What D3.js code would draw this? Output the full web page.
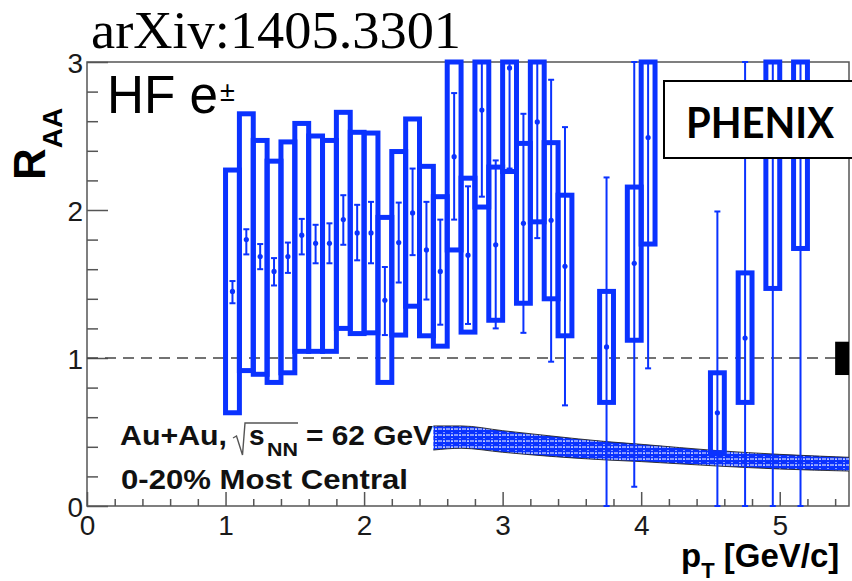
<!DOCTYPE html>
<html>
<head>
<meta charset="utf-8">
<script src="https://cdn.jsdelivr.net/npm/d3@7"></script>
<style>
  html, body { margin: 0; padding: 0; background: #fff; }
  svg { display: block; }
</style>
</head>
<body>
<svg id="chart" width="852" height="581"></svg>
<script>
// Heavy-flavour electron R_AA, Au+Au 62 GeV, 0-20% central
const pT       = [1.05, 1.15, 1.25, 1.35, 1.45, 1.55, 1.65, 1.75, 1.85, 1.95, 2.05, 2.15, 2.25, 2.35, 2.45, 2.55, 2.65, 2.75, 2.85, 2.95, 3.05, 3.15, 3.25, 3.35, 3.45, 3.75, 3.95, 4.05, 4.55, 4.75, 4.95, 5.15];
const rAA      = [1.45, 1.80, 1.685, 1.585, 1.685, 1.83, 1.775, 1.775, 1.935, 1.845, 1.845, 1.39, 1.78, 1.98, 1.73, 1.585, 2.36, 1.695, 2.675, 1.765, 2.96, 1.91, 2.595, 1.93, 1.62, 1.075, 1.64, 2.49, 0.63, 1.135, 2.40, 2.50];
const statLow  = [1.37, 1.70, 1.60, 1.49, 1.575, 1.70, 1.64, 1.64, 1.765, 1.66, 1.64, 1.155, 1.51, 1.695, 1.395, 1.225, 1.935, 1.23, 2.09, 1.20, 2.28, 1.17, 1.81, 0.975, 0.68, -0.07, 0.13, 0.93, -0.73, -0.80, -0.10, -0.10];
const statHigh = [1.52, 1.87, 1.77, 1.675, 1.78, 1.94, 1.90, 1.91, 2.10, 2.035, 2.055, 1.615, 2.05, 2.28, 2.055, 1.935, 2.79, 2.16, 3.26, 2.335, 3.64, 2.65, 3.38, 2.88, 2.56, 2.22, 3.15, 4.05, 1.99, 3.07, 4.90, 5.10];
const sysLow   = [0.63, 0.915, 0.89, 0.835, 0.90, 1.045, 1.045, 1.045, 1.20, 1.165, 1.17, 0.835, 1.155, 1.35, 1.15, 1.08, 1.73, 1.175, 2.02, 1.255, 2.26, 1.37, 1.92, 1.40, 1.15, 0.70, 1.12, 1.77, 0.36, 0.70, 1.47, 1.74];
const sysHigh  = [2.27, 2.65, 2.47, 2.33, 2.46, 2.585, 2.50, 2.47, 2.66, 2.525, 2.52, 1.95, 2.395, 2.615, 2.295, 2.09, 3.40, 2.215, 3.30, 2.29, 3.60, 2.45, 3.30, 2.455, 2.10, 1.45, 2.155, 3.30, 0.90, 1.575, 3.30, 3.20];

// Model band
const bandPt   = [2.5, 2.7, 3.0, 3.35, 3.75, 4.0, 4.55, 5.0, 5.5];
const bandHigh = [0.541, 0.541, 0.509, 0.473, 0.435, 0.417, 0.374, 0.349, 0.329];
const bandLow  = [0.378, 0.39, 0.363, 0.335, 0.311, 0.30, 0.27, 0.25, 0.236];

// Global normalisation uncertainty at unity
const normRange = [0.885, 1.11];
const normPt = [5.4, 5.5];

const xTicks = [0, 1, 2, 3, 4, 5];
const yTicks = [0, 1, 2, 3];

const BLUE = '#0a32ff';
const AXIS = '#555';
const svg = d3.select('#chart');

const x = d3.scaleLinear().domain([0, 5.5]).range([87, 849]);
const y = d3.scaleLinear().domain([0, 3]).range([506, 62]);
const clampY = v => Math.max(0, Math.min(3, v));

// hatched fill for the model band
const defs = svg.append('defs');
const pat = defs.append('pattern').attr('id', 'bandFill')
  .attr('patternUnits', 'userSpaceOnUse').attr('width', 8).attr('height', 6);
pat.append('rect').attr('width', 8).attr('height', 6).attr('fill', BLUE);
pat.append('line').attr('x1', 0).attr('x2', 8).attr('y1', 3).attr('y2', 3)
  .attr('stroke', '#fff').attr('stroke-width', 1).attr('stroke-dasharray', '2 1');
pat.append('line').attr('x1', 4).attr('x2', 4).attr('y1', 0).attr('y2', 6)
  .attr('stroke', '#fff').attr('stroke-width', 1).attr('stroke-dasharray', '1 2');

// frame
const [x0, x1] = x.range();
const [yb, yt] = y.range();
svg.append('rect').attr('x', x0).attr('y', yt).attr('width', x1 - x0).attr('height', yb - yt)
  .attr('fill', 'none').attr('stroke', AXIS).attr('stroke-width', 1.5);

// axes
const styleAxis = g => {
  g.select('.domain').remove();
  g.selectAll('.tick line').attr('stroke', AXIS).attr('stroke-width', 1.5);
  g.selectAll('.tick text').attr('fill', '#1a1a1a')
    .attr('font-family', '"Liberation Sans", Arial, sans-serif').attr('font-size', 28);
};
const yMinor = d3.range(0, 3.001, 0.2).filter(v => Math.abs(v - Math.round(v)) > 1e-6);
const xMinor = d3.range(0, 5.501, 0.2).filter(v => Math.abs(v - Math.round(v)) > 1e-6);

svg.append('g').attr('transform', `translate(${x0},0)`)
  .call(d3.axisLeft(y).tickValues(yMinor).tickSize(-11).tickFormat('')).call(styleAxis);
svg.append('g').attr('transform', `translate(${x0},0)`)
  .call(d3.axisLeft(y).tickValues(yTicks).tickSize(-21).tickPadding(4).tickFormat(d3.format('d')))
  .call(styleAxis)
  .call(g => g.selectAll('.tick text').attr('dy', '0.37em'));
svg.append('g').attr('transform', `translate(0,${yb})`)
  .call(d3.axisBottom(x).tickValues(xMinor).tickSize(-7).tickFormat('')).call(styleAxis);
svg.append('g').attr('transform', `translate(0,${yb})`)
  .call(d3.axisBottom(x).tickValues(xTicks).tickSize(-14).tickPadding(9).tickFormat(d3.format('d')))
  .call(styleAxis);

// unity reference
svg.append('line').attr('x1', x(0)).attr('x2', x(5.5)).attr('y1', y(1)).attr('y2', y(1))
  .attr('stroke', '#444').attr('stroke-width', 1.5).attr('stroke-dasharray', '11 7');

// labels
const SANS = '"Liberation Sans", Arial, Helvetica, sans-serif';
svg.append('text').attr('x', 91).attr('y', 48)
  .attr('font-family', '"Liberation Serif", "Times New Roman", serif').attr('font-size', 52)
  .attr('textLength', 370).attr('lengthAdjust', 'spacingAndGlyphs')
  .text('arXiv:1405.3301');

svg.append('text').attr('x', 107).attr('y', 113)
  .attr('font-family', SANS).attr('font-size', 53)
  .attr('textLength', 111).attr('lengthAdjust', 'spacingAndGlyphs').text('HF e');
svg.append('text').attr('x', 220).attr('y', 101)
  .attr('font-family', SANS).attr('font-size', 27).text('±');

const yl = svg.append('text').attr('transform', 'translate(45,180) rotate(-90)')
  .attr('font-family', SANS).attr('font-weight', 'bold');
yl.append('tspan').attr('font-size', 44).text('R');
yl.append('tspan').attr('font-size', 28).attr('dy', 17).text('AA');

const xl = svg.append('text').attr('x', 681).attr('y', 567)
  .attr('font-family', SANS).attr('font-weight', 'bold');
xl.append('tspan').attr('font-size', 33).text('p');
xl.append('tspan').attr('font-size', 22).attr('dy', 11).text('T');
xl.append('tspan').attr('font-size', 33).attr('dy', -11).text(' [GeV/c]');

// collision system text
const leg = svg.append('g').attr('font-family', SANS).attr('font-weight', 'bold').attr('fill', '#111');
leg.append('text').attr('x', 120).attr('y', 445).attr('font-size', 28)
  .attr('textLength', 107).attr('lengthAdjust', 'spacingAndGlyphs').text('Au+Au,');
leg.append('path').attr('d', 'M233,438 L236.5,436 L242.5,455 L245,423 L298,423')
  .attr('fill', 'none').attr('stroke', '#555').attr('stroke-width', 1.4);
leg.append('text').attr('x', 249).attr('y', 445).attr('font-size', 28).text('s');
leg.append('text').attr('x', 267).attr('y', 456).attr('font-size', 19)
  .attr('textLength', 31).attr('lengthAdjust', 'spacingAndGlyphs').text('NN');
leg.append('text').attr('x', 306).attr('y', 445).attr('font-size', 28)
  .attr('textLength', 127).attr('lengthAdjust', 'spacingAndGlyphs').text('= 62 GeV');
leg.append('text').attr('x', 121).attr('y', 489).attr('font-size', 28)
  .attr('textLength', 287).attr('lengthAdjust', 'spacingAndGlyphs').text('0-20% Most Central');

// model band
const bandData = bandPt.map((p, i) => ({ p, lo: bandLow[i], hi: bandHigh[i] }));
svg.append('path').datum(bandData)
  .attr('d', d3.area().x(d => x(d.p)).y0(d => y(d.lo)).y1(d => y(d.hi)).curve(d3.curveMonotoneX))
  .attr('fill', 'url(#bandFill)');
['hi', 'lo'].forEach(k => {
  svg.append('path').datum(bandData)
    .attr('d', d3.line().x(d => x(d.p)).y(d => y(d[k])).curve(d3.curveMonotoneX))
    .attr('fill', 'none').attr('stroke', '#222').attr('stroke-width', 0.9);
});

// data
const pts = pT.map((p, i) => ({ p, v: rAA[i], sl: statLow[i], sh: statHigh[i], bl: sysLow[i], bh: sysHigh[i] }));
const half = 0.05;

svg.append('g').selectAll('rect').data(pts).join('rect')
  .attr('x', d => x(d.p - half))
  .attr('width', d => x(d.p + half) - x(d.p - half))
  .attr('y', d => y(clampY(d.bh)))
  .attr('height', d => y(clampY(d.bl)) - y(clampY(d.bh)))
  .attr('fill', 'none').attr('stroke', BLUE).attr('stroke-width', 5);

const eb = svg.append('g').attr('stroke', BLUE).attr('stroke-width', 2);
eb.selectAll('line.bar').data(pts).join('line').attr('class', 'bar')
  .attr('x1', d => x(d.p)).attr('x2', d => x(d.p))
  .attr('y1', d => y(clampY(d.sl))).attr('y2', d => y(clampY(d.sh)));
eb.selectAll('line.capL').data(pts).join('line').attr('class', 'capL')
  .attr('x1', d => x(d.p) - 3).attr('x2', d => x(d.p) + 3)
  .attr('y1', d => y(clampY(d.sl))).attr('y2', d => y(clampY(d.sl)));
eb.selectAll('line.capH').data(pts).join('line').attr('class', 'capH')
  .attr('x1', d => x(d.p) - 3).attr('x2', d => x(d.p) + 3)
  .attr('y1', d => y(clampY(d.sh))).attr('y2', d => y(clampY(d.sh)));
svg.append('g').selectAll('circle').data(pts.filter(d => d.v <= 3)).join('circle')
  .attr('cx', d => x(d.p)).attr('cy', d => y(d.v)).attr('r', 2.6).attr('fill', BLUE);

// normalisation box
svg.append('rect').attr('x', x(normPt[0])).attr('width', x(normPt[1]) - x(normPt[0]))
  .attr('y', y(normRange[1])).attr('height', y(normRange[0]) - y(normRange[1]))
  .attr('fill', '#000');

// experiment label
svg.append('rect').attr('x', 664).attr('y', 81).attr('width', 200).attr('height', 77)
  .attr('fill', '#fff').attr('stroke', '#000').attr('stroke-width', 2);
svg.append('text').attr('x', 686).attr('y', 138)
  .attr('font-family', 'Lato, "Open Sans", sans-serif').attr('font-weight', 'bold').attr('font-size', 42)
  .attr('textLength', 148).attr('lengthAdjust', 'spacingAndGlyphs').text('PHENIX');
</script>
</body>
</html>
